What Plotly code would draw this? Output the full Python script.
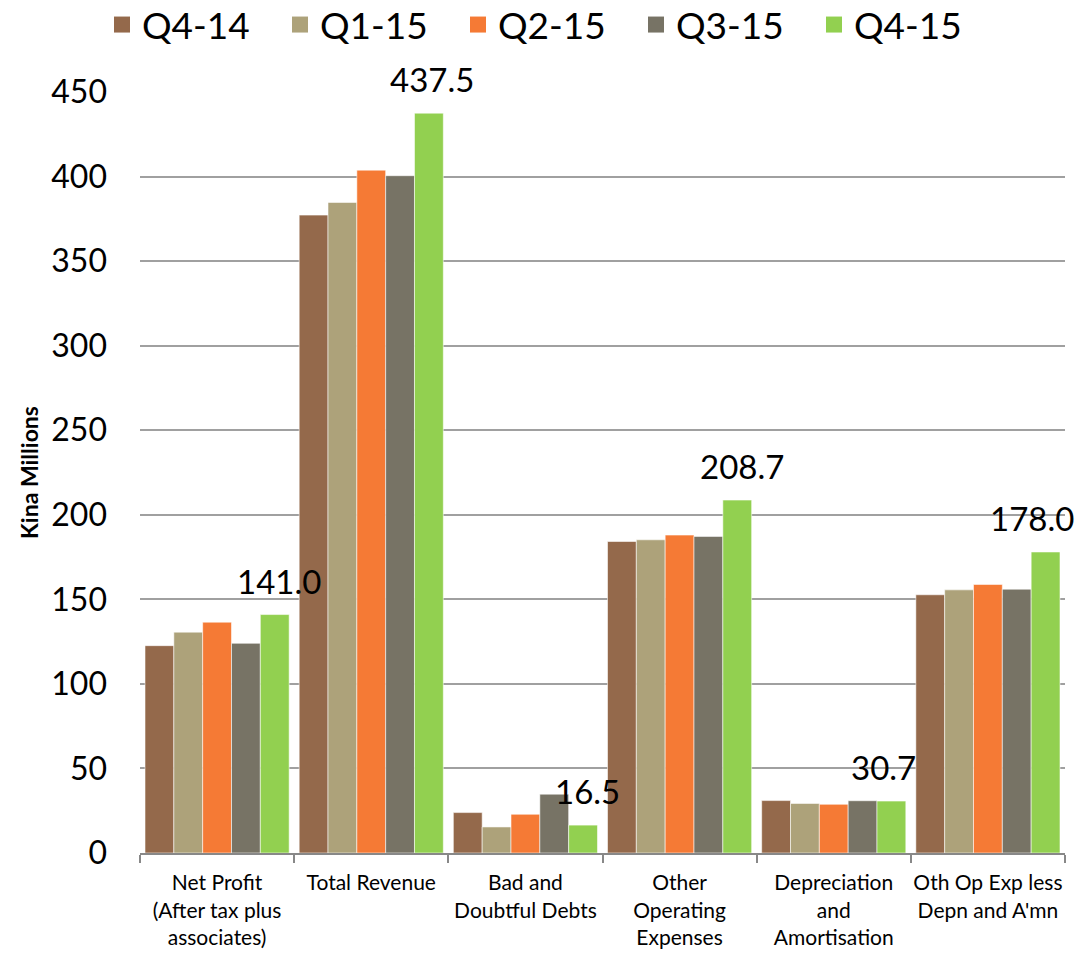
import plotly.graph_objects as go

categories = [
    "Net Profit<br>(After tax plus<br>associates)",
    "Total Revenue",
    "Bad and<br>Doubtful Debts",
    "Other<br>Operating<br>Expenses",
    "Depreciation<br>and<br>Amortisation",
    "Oth Op Exp less<br>Depn and A'mn",
]
series_names = ["Q4-14", "Q1-15", "Q2-15", "Q3-15", "Q4-15"]
q4_14 = [122.6, 377.2, 23.9, 184.2, 31.0, 152.7]
q1_15 = [130.6, 384.7, 15.4, 185.2, 29.3, 155.6]
q2_15 = [136.5, 403.8, 22.9, 188.0, 28.8, 158.8]
q3_15 = [124.0, 400.5, 34.8, 187.2, 30.9, 156.0]
q4_15 = [141.0, 437.5, 16.5, 208.7, 30.7, 178.0]
series_values = [q4_14, q1_15, q2_15, q3_15, q4_15]
colors = ["#94694B", "#ADA27A", "#F57A35", "#777365", "#92D050"]
y_ticks = [0, 50, 100, 150, 200, 250, 300, 350, 400, 450]

# style: small horizontal nudges of the Q4-15 value labels (px)
LABEL_DX = [4, 3, 4, 5, -8, -14]

W, H = 1088, 955
ML, MR, MT, MB = 140, 23, 92, 102
BARGAP = 0.065
FONT = "Lato"

fig = go.Figure()
for name, vals, col in zip(series_names, series_values, colors):
    fig.add_trace(go.Bar(
        x=categories, y=vals, name=name, legendgroup=name, showlegend=False,
        marker=dict(color=col, line=dict(color="rgba(255,255,255,0.55)", width=1)),
        hoverinfo="x+y+name",
    ))
    fig.add_trace(go.Scatter(
        x=[None], y=[None], mode="markers", name=name, legendgroup=name,
        marker=dict(symbol="square", size=16, color=col),
    ))

# data labels for latest quarter
plot_w = W - ML - MR
bar_w = plot_w / len(categories) * (1 - BARGAP) / len(series_names)
for cat, v, dx in zip(categories, q4_15, LABEL_DX):
    fig.add_annotation(
        x=cat, y=v, xref="x", yref="y", text=f"{v:.1f}", showarrow=False,
        xanchor="center", yanchor="bottom", xshift=2 * bar_w + dx, yshift=12,
        font=dict(family=FONT, size=33, color="#000000"),
    )

fig.update_layout(
    width=W, height=H,
    margin=dict(l=ML, r=MR, t=MT, b=MB, autoexpand=False),
    paper_bgcolor="white", plot_bgcolor="white",
    barmode="group", bargap=BARGAP, bargroupgap=0,
    font=dict(family=FONT, color="#000000"),
    showlegend=True,
    legend=dict(
        orientation="h", xref="container", yref="container",
        x=0.5 + 3 / W, xanchor="center", y=1 - 25 / H, yanchor="middle",
        font=dict(family=FONT, size=37, color="#000000"),
        itemwidth=30, tracegroupgap=0, entrywidth=133,
    ),
    xaxis=dict(
        range=[-0.5, len(categories) - 0.5],
        showline=True, linecolor="#888888", linewidth=2,
        ticks="outside", tickson="boundaries", ticklen=8, tickcolor="#888888", tickwidth=2,
        tickfont=dict(family=FONT, size=21, color="#000000"),
        ticklabelstandoff=10,
        tickangle=0, automargin=False,
        showgrid=False,
    ),
    yaxis=dict(
        range=[0, 450], tickvals=y_ticks, ticktext=[str(t) for t in y_ticks],
        showgrid=True, gridcolor="#A0A0A0", gridwidth=2,
        showline=False, zeroline=False, ticks="", automargin=False,
        ticklabelstandoff=32,
        tickfont=dict(family=FONT, size=32, color="#000000"),
        title=dict(text="<b>Kina Millions</b>", font=dict(family=FONT, size=23, color="#000000"), standoff=6),
    ),
)

fig.write_html(
    "out.html",
    config={"displayModeBar": False},
    post_script="document.body.style.margin='0px';",
)
